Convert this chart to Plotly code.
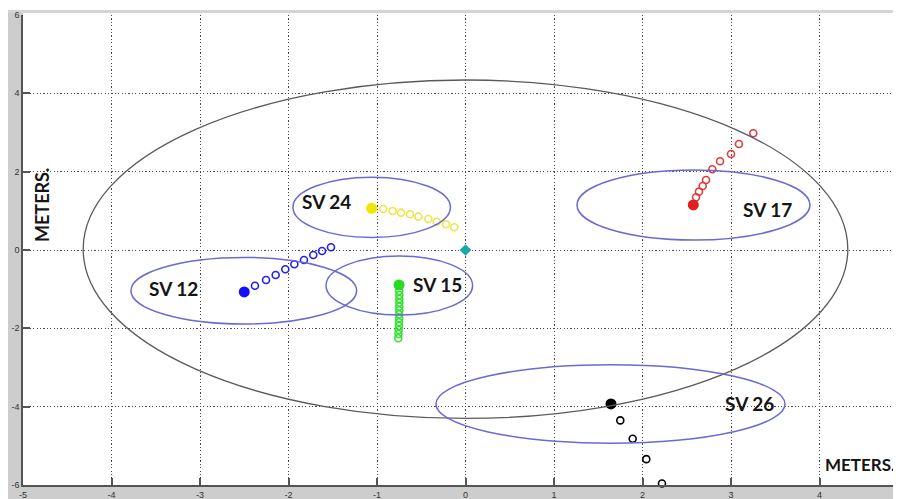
import plotly.graph_objects as go

# ---- data (meters) ----
sv_names = ["SV 12", "SV 24", "SV 15", "SV 17", "SV 26"]
sv_colors = ["#1010ff", "#f0e600", "#22dd22", "#e02020", "#000000"]
hollow_colors = ["#2020f0", "#ece64a", "#33e033", "#e03a3a", "#000000"]

cur_x = [-2.50, -1.06, -0.751, 2.574, 1.644]
cur_y = [-1.07, 1.065, -0.893, 1.15, -3.93]

hist_x = [
    [-2.379, -2.254, -2.145, -2.036, -1.934, -1.825, -1.720, -1.621, -1.520],
    [-0.929, -0.823, -0.729, -0.627, -0.533, -0.420, -0.325, -0.220, -0.126],
    [-0.750, -0.748, -0.748, -0.748, -0.748, -0.748, -0.750, -0.750, -0.752, -0.752, -0.755, -0.757, -0.760],
    [2.605, 2.638, 2.680, 2.718, 2.789, 2.876, 3.000, 3.090, 3.252],
    [1.749, 1.889, 2.043, 2.220],
]
hist_y = [
    [-0.911, -0.765, -0.638, -0.492, -0.365, -0.255, -0.127, -0.025, 0.069],
    [1.047, 0.996, 0.953, 0.912, 0.851, 0.792, 0.723, 0.657, 0.580],
    [-1.046, -1.148, -1.250, -1.345, -1.447, -1.539, -1.641, -1.743, -1.845, -1.940, -2.042, -2.144, -2.254],
    [1.346, 1.490, 1.635, 1.788, 2.060, 2.265, 2.450, 2.707, 2.980],
    [-4.35, -4.82, -5.34, -5.96],
]

# error ellipses: centre and semi-axes
ell_cx = [-2.505, -1.06, -0.748, 2.576, 1.638]
ell_cy = [-1.04, 1.09, -0.906, 1.149, -3.931]
ell_a = [1.275, 0.89, 0.828, 1.316, 1.972]
ell_b = [0.85, 0.77, 0.753, 0.894, 1.00]

# label positions
lab_x = [-3.294, -1.576, -0.320, 3.418, 3.209]
lab_y = [-0.99, 1.239, -0.868, 1.022, -3.931]

# big circle
big_cx, big_cy, big_r = 0.0, 0.02, 4.32
origin_x, origin_y = [0.0], [0.0]

x_ticks = [-5, -4, -3, -2, -1, 0, 1, 2, 3, 4]
y_ticks = [-6, -4, -2, 0, 2, 4, 6]

# page has an 8px body margin -> figure is offset by 8px
OFF = 8
W, H = 901 - OFF, 499 - OFF
ML, MR, MT, MB = 23 - OFF, 0, 15 - OFF, 14
PW, PH = W - ML - MR, H - MT - MB


def px_x(p):  # screen pixel -> paper fraction
    return (p - OFF - ML) / PW


def px_y(p):
    return 1 - (p - OFF - MT) / PH


fig = go.Figure()

shapes = []
# MATLAB-like grey figure frame
shapes.append(dict(type="rect", xref="paper", yref="paper", x0=px_x(8), x1=px_x(23), y0=px_y(499), y1=px_y(10),
                   fillcolor="#cdcdcd", line_width=0, layer="below"))
shapes.append(dict(type="rect", xref="paper", yref="paper", x0=px_x(8), x1=px_x(901), y0=px_y(499), y1=px_y(485),
                   fillcolor="#cdcdcd", line_width=0, layer="below"))
shapes.append(dict(type="rect", xref="paper", yref="paper", x0=px_x(8), x1=px_x(901), y0=px_y(13), y1=px_y(10),
                   fillcolor="#d4d4d4", line_width=0, layer="below"))

shapes.append(dict(type="circle", xref="x", yref="y",
                   x0=big_cx - big_r, x1=big_cx + big_r, y0=big_cy - big_r, y1=big_cy + big_r,
                   line=dict(color="#5a5a5a", width=1.3)))
for cx, cy, a, b in zip(ell_cx, ell_cy, ell_a, ell_b):
    shapes.append(dict(type="circle", xref="x", yref="y", x0=cx - a, x1=cx + a, y0=cy - b, y1=cy + b,
                       line=dict(color="#6a6ad6", width=1.5)))

for i in range(len(sv_names)):
    fig.add_trace(go.Scatter(x=hist_x[i], y=hist_y[i], mode="markers",
                             marker=dict(symbol="circle-open", size=7, color=hollow_colors[i],
                                         line=dict(width=1.6, color=hollow_colors[i])),
                             showlegend=False, hoverinfo="skip", cliponaxis=False))
    fig.add_trace(go.Scatter(x=[cur_x[i]], y=[cur_y[i]], mode="markers",
                             marker=dict(symbol="circle", size=11, color=sv_colors[i],
                                         line=dict(width=0)),
                             showlegend=False, hoverinfo="skip"))

fig.add_trace(go.Scatter(x=origin_x, y=origin_y, mode="markers",
                         marker=dict(symbol="diamond", size=9, color="#1aa8a8"),
                         showlegend=False, hoverinfo="skip"))

annotations = []
for name, lx, ly in zip(sv_names, lab_x, lab_y):
    annotations.append(dict(x=lx, y=ly, xref="x", yref="y", text=name, showarrow=False,
                            xanchor="center", yanchor="middle",
                            font=dict(family="Lato", size=19, color="#151515", weight="bold")))
annotations.append(dict(x=px_x(897), y=px_y(464), xref="paper", yref="paper", text="METERS.",
                        xanchor="right", yanchor="middle",
                        showarrow=False, font=dict(family="Lato", size=17, color="#151515", weight="bold")))
annotations.append(dict(x=px_x(42), y=px_y(205), xref="paper", yref="paper", text="METERS.",
                        xanchor="center", yanchor="middle",
                        textangle=-90, showarrow=False,
                        font=dict(family="Lato", size=18, color="#151515", weight="bold")))

axis_common = dict(showgrid=True, gridcolor="#4a4a4a", griddash="1.2px,2.2px", gridwidth=1,
                   zeroline=False, showline=True, linecolor="#555555", linewidth=1.5,
                   ticks="inside", ticklen=7, tickcolor="#555555", tickwidth=1.5, automargin=False,
                   tickfont=dict(family="Liberation Sans", size=9, color="#333333"))

fig.update_layout(
    width=W, height=H,
    margin=dict(l=ML, r=MR, t=MT, b=MB, autoexpand=False),
    paper_bgcolor="white", plot_bgcolor="white",
    shapes=shapes, annotations=annotations,
    xaxis=dict(range=[-5, -5 + PW / 88.5], tickvals=x_ticks, ticktext=[str(v) for v in x_ticks],
               ticklabelstandoff=0, **axis_common),
    yaxis=dict(range=[-6, 6], tickvals=y_ticks, ticktext=[str(v) for v in y_ticks],
               ticklabelstandoff=0, **axis_common),
)

fig.write_html("out.html")
